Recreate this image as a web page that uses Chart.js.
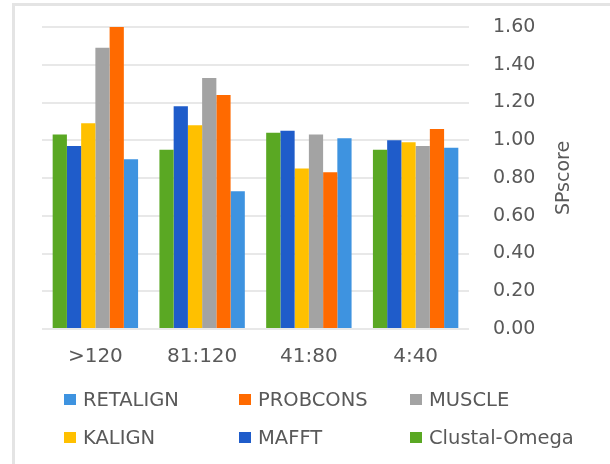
<!DOCTYPE html>
<html>
<head>
<meta charset="utf-8">
<script src="https://cdn.jsdelivr.net/npm/chart.js@4"></script>
<style>
  html, body { margin: 0; padding: 0; background: #fff; }
  body { width: 610px; height: 464px; position: relative; overflow: hidden; font-family: "DejaVu Sans", sans-serif; }
  #moldura { position: absolute; left: 12px; top: 3px; width: 620px; height: 480px; border-left: 3px solid #e4e4e4; border-top: 3px solid #e4e4e4; }
  #area { position: absolute; left: 0; top: 0; width: 610px; height: 380px; }
  #legenda { position: absolute; left: 0; top: 0; width: 610px; height: 464px; pointer-events: none; }
  .item { position: absolute; display: flex; align-items: center; color: #595959; font-size: 19.5px; white-space: nowrap; }
  .caixa { width: 12px; height: 11px; margin-right: 7px; }
</style>
</head>
<body>
<div id="moldura"></div>
<div id="area"><canvas id="graficoSP"></canvas></div>
<div id="legenda"></div>
<script>
// Dados
const categorias = ['>120', '81:120', '41:80', '4:40'];
const clustalOmega = [1.03, 0.95, 1.04, 0.95];
const mafft = [0.97, 1.18, 1.05, 1.00];
const kalign = [1.09, 1.08, 0.85, 0.99];
const muscle = [1.49, 1.33, 1.03, 0.97];
const probcons = [1.60, 1.24, 0.83, 1.06];
const retalign = [0.90, 0.73, 1.01, 0.96];
const ticksY = [0, 0.2, 0.4, 0.6, 0.8, 1.0, 1.2, 1.4, 1.6];

const series = [
    { label: 'Clustal-Omega', data: clustalOmega, cor: '#5aa823' },
    { label: 'MAFFT', data: mafft, cor: '#1f5cca' },
    { label: 'KALIGN', data: kalign, cor: '#ffc000' },
    { label: 'MUSCLE', data: muscle, cor: '#a3a3a3' },
    { label: 'PROBCONS', data: probcons, cor: '#ff6a00' },
    { label: 'RETALIGN', data: retalign, cor: '#3e93e0' }
];

const corTexto = '#595959';

// titulo do eixo Y lido de baixo para cima
const tituloEixo = {
    id: 'tituloEixo',
    afterDraw(chart) {
        const ctx = chart.ctx;
        const area = chart.chartArea;
        ctx.save();
        ctx.translate(564, (area.top + area.bottom) / 2);
        ctx.rotate(-Math.PI / 2);
        ctx.font = '19px "DejaVu Sans"';
        ctx.fillStyle = corTexto;
        ctx.textAlign = 'center';
        ctx.textBaseline = 'middle';
        ctx.fillText('SPscore', 0, 0);
        ctx.restore();
    }
};

const ctx = document.getElementById('graficoSP').getContext('2d');
new Chart(ctx, {
    type: 'bar',
    data: {
        labels: categorias,
        datasets: series.map(s => ({
            label: s.label,
            data: s.data,
            backgroundColor: s.cor,
            borderWidth: 0,
            categoryPercentage: 0.8,
            barPercentage: 1.0
        }))
    },
    options: {
        responsive: true,
        maintainAspectRatio: false,
        animation: false,
        layout: { padding: { left: 42, right: 34, top: 27, bottom: 11 } },
        plugins: {
            legend: { display: false },
            tooltip: { enabled: false }
        },
        scales: {
            x: {
                grid: { display: false },
                border: { display: false },
                ticks: { color: corTexto, font: { family: 'DejaVu Sans', size: 20 }, padding: 8 },
                afterFit: axis => { axis.height = 40; axis.paddingLeft = 0; axis.paddingRight = 0; }
            },
            y: {
                position: 'right',
                min: 0,
                max: 1.6,
                afterBuildTicks: axis => { axis.ticks = ticksY.map(v => ({ value: v })); },
                grid: { color: '#e8e8e8', lineWidth: 2, drawTicks: false },
                border: { display: false },
                ticks: {
                    color: corTexto,
                    font: { family: 'DejaVu Sans', size: 19 },
                    padding: 24,
                    callback: v => Number(v).toFixed(2)
                },
                // largura fixa e sem folga extra acima/abaixo
                afterFit: axis => { axis.width = 107; axis.paddingTop = 0; axis.paddingBottom = 0; }
            }
        }
    },
    plugins: [tituloEixo]
});

// Legenda em duas linhas, ordem inversa das séries
const ordemLegenda = series.slice().reverse();
const colunasX = [64, 239, 410];
const linhasY = [399, 437];
const legenda = document.getElementById('legenda');
ordemLegenda.forEach((s, i) => {
    const el = document.createElement('div');
    el.className = 'item';
    el.style.left = colunasX[i % 3] + 'px';
    el.style.top = (linhasY[Math.floor(i / 3)] - 12) + 'px';
    el.style.height = '24px';
    el.innerHTML = `<span class="caixa" style="background:${s.cor}"></span>${s.label}`;
    legenda.appendChild(el);
});
</script>
</body>
</html>
